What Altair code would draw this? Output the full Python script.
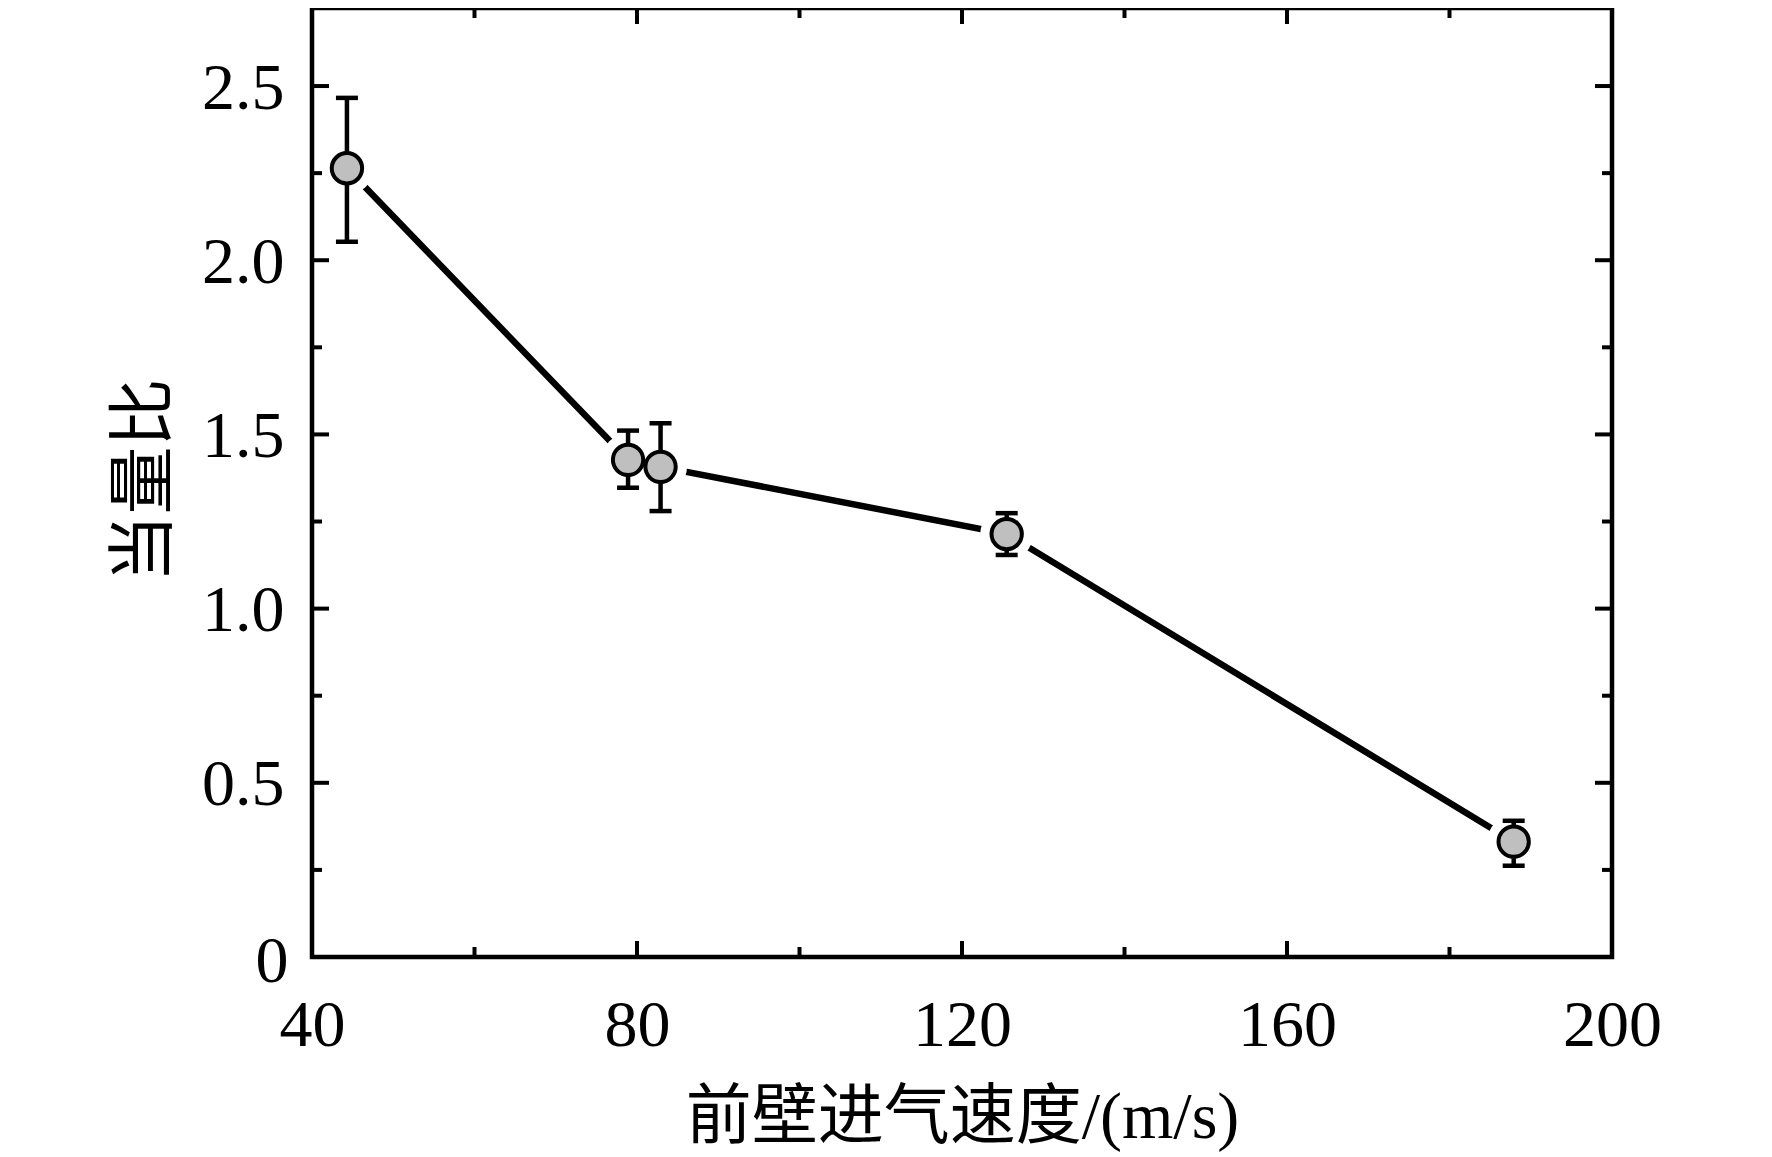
import altair as alt
import pandas as pd

# ---- data ----
speed = [44.3, 78.9, 82.9, 125.5, 187.9]          # 前壁进气速度 (m/s)
ratio = [2.264, 1.427, 1.407, 1.214, 0.331]       # 当量比
err_hi = [2.466, 1.511, 1.532, 1.274, 0.391]
err_lo = [2.053, 1.347, 1.280, 1.154, 0.262]

x_major = [40, 80, 120, 160, 200]
x_minor = [60, 100, 140, 180]
y_major = [0, 0.5, 1.0, 1.5, 2.0, 2.5]
y_minor = [0.25, 0.75, 1.25, 1.75, 2.25]

x_title = "前壁进气速度/(m/s)"
y_title = "当量比"

W, H = 1300, 949
FONT = "Liberation Serif, Noto Sans CJK SC"

df = pd.DataFrame({"speed": speed, "ratio": ratio, "hi": err_hi, "lo": err_lo})

x_scale = alt.Scale(domain=[40, 200], nice=False, zero=False)
y_scale = alt.Scale(domain=[0, 2.724], nice=False, zero=False)

x_axis = alt.Axis(
    values=x_major, grid=False, domain=False, ticks=False, tickSize=0, labelFlush=False,
    labelFont=FONT, labelFontSize=66, labelColor="black",
    labelBaseline="alphabetic", labelPadding=88,
    title=x_title, titleFont=FONT, titleFontSize=66, titleFontWeight="normal",
    titleColor="black", titleX=650, titleY=180, titleAlign="center",
    titleBaseline="alphabetic", titleAnchor="middle",
)
y_axis = alt.Axis(
    values=y_major, grid=False, domain=False, ticks=False, tickSize=0, labelFlush=False,
    labelExpr="datum.value == 0 ? '0' : format(datum.value, '.1f')",
    labelFont=FONT, labelFontSize=66, labelColor="black",
    labelPadding={"condition": {"test": "datum.value == 0", "value": 24}, "value": 28},
    labelOffset={"condition": {"test": "datum.value == 0", "value": 4}, "value": 2},
    title=y_title, titleFont=FONT, titleFontSize=68, titleFontWeight="normal",
    titleColor="black", titleX=-167, titleY=472, titleAngle=270,
    titleAlign="center", titleBaseline="middle",
)

xe = alt.X("speed:Q", scale=x_scale, axis=x_axis, title=x_title)
ye = alt.Y("ratio:Q", scale=y_scale, axis=y_axis, title=y_title)

base = alt.Chart(df)

line = base.mark_line(color="black", strokeWidth=6.5).encode(x=xe, y=ye)
halo = base.mark_point(shape="circle", filled=True, color="white", opacity=1, size=2800).encode(x=xe, y=ye)
stems = base.mark_rule(color="black", strokeWidth=4.5).encode(
    x=xe, y=alt.Y("lo:Q", scale=y_scale, axis=y_axis, title=y_title), y2="hi:Q")
cap_hi = base.mark_tick(orient="horizontal", color="black", size=22, thickness=4.5, opacity=1).encode(
    x=xe, y=alt.Y("hi:Q", scale=y_scale, axis=y_axis, title=y_title))
cap_lo = base.mark_tick(orient="horizontal", color="black", size=22, thickness=4.5, opacity=1).encode(
    x=xe, y=alt.Y("lo:Q", scale=y_scale, axis=y_axis, title=y_title))
pts = base.mark_point(shape="circle", filled=False, fill="#bfbfbf", fillOpacity=1, stroke="black",
                      strokeWidth=4, opacity=1, size=920).encode(x=xe, y=ye)

def xticks(vals, length):
    d = alt.Chart(pd.DataFrame({"speed": vals}))
    bottom = d.mark_rule(color="black", strokeWidth=4).encode(x=xe, y=alt.value(H), y2=alt.value(H - length))
    top = d.mark_rule(color="black", strokeWidth=4).encode(x=xe, y=alt.value(0), y2=alt.value(length))
    return [bottom, top]

def yticks(vals, length):
    d = alt.Chart(pd.DataFrame({"ratio": vals}))
    left = d.mark_rule(color="black", strokeWidth=4).encode(y=ye, x=alt.value(0), x2=alt.value(length))
    right = d.mark_rule(color="black", strokeWidth=4).encode(y=ye, x=alt.value(W), x2=alt.value(W - length))
    return [left, right]

layers = [line, halo, stems, cap_hi, cap_lo, pts]
layers += xticks(x_major, 16) + xticks(x_minor, 10) + yticks(y_major, 17) + yticks(y_minor, 10)

chart = alt.layer(*layers).properties(
    width=W, height=H,
    background="white",
    autosize=alt.AutoSizeParams(type="none"),
    padding={"left": 304, "top": 0, "right": 140, "bottom": 198},
).configure_view(stroke="black", strokeWidth=4.5)

chart.save("out.html", embed_options={"renderer": "svg", "actions": False})
